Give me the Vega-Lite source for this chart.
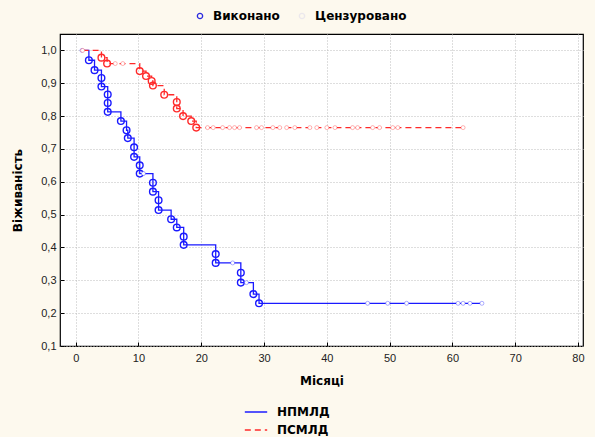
{
  "$schema": "https://vega.github.io/schema/vega-lite/v6.json",
  "width": 523,
  "height": 312,
  "autosize": {"type": "none"},
  "padding": {"left": 60, "top": 34, "right": 12, "bottom": 91},
  "background": "#fdf9ee",
  "config": {
    "view": {"fill": "white", "stroke": "black", "strokeWidth": 1.2},
    "font": "Liberation Sans",
    "axis": {
      "domain": false,
      "grid": true,
      "gridColor": "#bdbdbd",
      "gridDash": [1, 2],
      "gridWidth": 1,
      "tickColor": "black",
      "tickSize": -4,
      "labelFont": "Liberation Sans",
      "labelFontSize": 11,
      "labelColor": "#222222",
      "titleFont": "DejaVu Sans",
      "titleFontSize": 12,
      "titleFontWeight": "bold",
      "titleColor": "black"
    },
    "legend": {
      "labelFont": "DejaVu Sans",
      "labelFontSize": 12,
      "labelFontWeight": "bold",
      "labelColor": "black"
    }
  },
  "datasets": {
    "km": [
      {"grp": "НПМЛД", "i": 0, "t": 1.0, "s": 1.0, "kind": "Цензуровано"},
      {"grp": "НПМЛД", "i": 1, "t": 2.1, "s": 0.97, "kind": "Виконано"},
      {"grp": "НПМЛД", "i": 2, "t": 3.0, "s": 0.94, "kind": "Виконано"},
      {"grp": "НПМЛД", "i": 3, "t": 4.1, "s": 0.916, "kind": "Виконано"},
      {"grp": "НПМЛД", "i": 4, "t": 4.1, "s": 0.89, "kind": "Виконано"},
      {"grp": "НПМЛД", "i": 5, "t": 5.1, "s": 0.866, "kind": "Виконано"},
      {"grp": "НПМЛД", "i": 6, "t": 5.1, "s": 0.84, "kind": "Виконано"},
      {"grp": "НПМЛД", "i": 7, "t": 5.1, "s": 0.813, "kind": "Виконано"},
      {"grp": "НПМЛД", "i": 8, "t": 7.2, "s": 0.785, "kind": "Виконано"},
      {"grp": "НПМЛД", "i": 9, "t": 8.1, "s": 0.757, "kind": "Виконано"},
      {"grp": "НПМЛД", "i": 10, "t": 8.3, "s": 0.733, "kind": "Виконано"},
      {"grp": "НПМЛД", "i": 11, "t": 9.3, "s": 0.705, "kind": "Виконано"},
      {"grp": "НПМЛД", "i": 12, "t": 9.3, "s": 0.676, "kind": "Виконано"},
      {"grp": "НПМЛД", "i": 13, "t": 10.2, "s": 0.65, "kind": "Виконано"},
      {"grp": "НПМЛД", "i": 14, "t": 10.2, "s": 0.625, "kind": "Виконано"},
      {"grp": "НПМЛД", "i": 15, "t": 10.8, "s": 0.625, "kind": "Цензуровано"},
      {"grp": "НПМЛД", "i": 16, "t": 12.3, "s": 0.597, "kind": "Виконано"},
      {"grp": "НПМЛД", "i": 17, "t": 12.3, "s": 0.57, "kind": "Виконано"},
      {"grp": "НПМЛД", "i": 18, "t": 13.2, "s": 0.544, "kind": "Виконано"},
      {"grp": "НПМЛД", "i": 19, "t": 13.2, "s": 0.514, "kind": "Виконано"},
      {"grp": "НПМЛД", "i": 20, "t": 15.2, "s": 0.486, "kind": "Виконано"},
      {"grp": "НПМЛД", "i": 21, "t": 16.1, "s": 0.461, "kind": "Виконано"},
      {"grp": "НПМЛД", "i": 22, "t": 17.2, "s": 0.433, "kind": "Виконано"},
      {"grp": "НПМЛД", "i": 23, "t": 17.2, "s": 0.408, "kind": "Виконано"},
      {"grp": "НПМЛД", "i": 24, "t": 22.3, "s": 0.38, "kind": "Виконано"},
      {"grp": "НПМЛД", "i": 25, "t": 22.3, "s": 0.353, "kind": "Виконано"},
      {"grp": "НПМЛД", "i": 26, "t": 25.0, "s": 0.353, "kind": "Цензуровано"},
      {"grp": "НПМЛД", "i": 27, "t": 26.3, "s": 0.323, "kind": "Виконано"},
      {"grp": "НПМЛД", "i": 28, "t": 26.3, "s": 0.293, "kind": "Виконано"},
      {"grp": "НПМЛД", "i": 29, "t": 27.2, "s": 0.293, "kind": "Цензуровано"},
      {"grp": "НПМЛД", "i": 30, "t": 28.3, "s": 0.258, "kind": "Виконано"},
      {"grp": "НПМЛД", "i": 31, "t": 29.2, "s": 0.23, "kind": "Виконано"},
      {"grp": "НПМЛД", "i": 32, "t": 46.5, "s": 0.23, "kind": "Цензуровано"},
      {"grp": "НПМЛД", "i": 33, "t": 49.7, "s": 0.23, "kind": "Цензуровано"},
      {"grp": "НПМЛД", "i": 34, "t": 52.7, "s": 0.23, "kind": "Цензуровано"},
      {"grp": "НПМЛД", "i": 35, "t": 60.9, "s": 0.23, "kind": "Цензуровано"},
      {"grp": "НПМЛД", "i": 36, "t": 61.7, "s": 0.23, "kind": "Цензуровано"},
      {"grp": "НПМЛД", "i": 37, "t": 62.8, "s": 0.23, "kind": "Цензуровано"},
      {"grp": "НПМЛД", "i": 38, "t": 64.7, "s": 0.23, "kind": "Цензуровано"},
      {"grp": "ПСМЛД", "i": 0, "t": 1.1, "s": 1.0, "kind": "Цензуровано"},
      {"grp": "ПСМЛД", "i": 1, "t": 4.1, "s": 0.978, "kind": "Виконано"},
      {"grp": "ПСМЛД", "i": 2, "t": 5.0, "s": 0.96, "kind": "Виконано"},
      {"grp": "ПСМЛД", "i": 3, "t": 6.3, "s": 0.96, "kind": "Цензуровано"},
      {"grp": "ПСМЛД", "i": 4, "t": 7.5, "s": 0.96, "kind": "Цензуровано"},
      {"grp": "ПСМЛД", "i": 5, "t": 10.2, "s": 0.937, "kind": "Виконано"},
      {"grp": "ПСМЛД", "i": 6, "t": 11.2, "s": 0.922, "kind": "Виконано"},
      {"grp": "ПСМЛД", "i": 7, "t": 12.1, "s": 0.907, "kind": "Виконано"},
      {"grp": "ПСМЛД", "i": 8, "t": 12.3, "s": 0.893, "kind": "Виконано"},
      {"grp": "ПСМЛД", "i": 9, "t": 14.1, "s": 0.865, "kind": "Виконано"},
      {"grp": "ПСМЛД", "i": 10, "t": 16.1, "s": 0.843, "kind": "Виконано"},
      {"grp": "ПСМЛД", "i": 11, "t": 16.1, "s": 0.823, "kind": "Виконано"},
      {"grp": "ПСМЛД", "i": 12, "t": 17.1, "s": 0.80, "kind": "Виконано"},
      {"grp": "ПСМЛД", "i": 13, "t": 18.4, "s": 0.785, "kind": "Виконано"},
      {"grp": "ПСМЛД", "i": 14, "t": 19.2, "s": 0.765, "kind": "Виконано"},
      {"grp": "ПСМЛД", "i": 15, "t": 21.0, "s": 0.765, "kind": "Цензуровано"},
      {"grp": "ПСМЛД", "i": 16, "t": 21.9, "s": 0.765, "kind": "Цензуровано"},
      {"grp": "ПСМЛД", "i": 17, "t": 23.4, "s": 0.765, "kind": "Цензуровано"},
      {"grp": "ПСМЛД", "i": 18, "t": 24.5, "s": 0.765, "kind": "Цензуровано"},
      {"grp": "ПСМЛД", "i": 19, "t": 25.3, "s": 0.765, "kind": "Цензуровано"},
      {"grp": "ПСМЛД", "i": 20, "t": 26.1, "s": 0.765, "kind": "Цензуровано"},
      {"grp": "ПСМЛД", "i": 21, "t": 28.8, "s": 0.765, "kind": "Цензуровано"},
      {"grp": "ПСМЛД", "i": 22, "t": 29.6, "s": 0.765, "kind": "Цензуровано"},
      {"grp": "ПСМЛД", "i": 23, "t": 31.4, "s": 0.765, "kind": "Цензуровано"},
      {"grp": "ПСМЛД", "i": 24, "t": 32.5, "s": 0.765, "kind": "Цензуровано"},
      {"grp": "ПСМЛД", "i": 25, "t": 33.6, "s": 0.765, "kind": "Цензуровано"},
      {"grp": "ПСМЛД", "i": 26, "t": 34.9, "s": 0.765, "kind": "Цензуровано"},
      {"grp": "ПСМЛД", "i": 27, "t": 37.3, "s": 0.765, "kind": "Цензуровано"},
      {"grp": "ПСМЛД", "i": 28, "t": 38.4, "s": 0.765, "kind": "Цензуровано"},
      {"grp": "ПСМЛД", "i": 29, "t": 40.0, "s": 0.765, "kind": "Цензуровано"},
      {"grp": "ПСМЛД", "i": 30, "t": 41.3, "s": 0.765, "kind": "Цензуровано"},
      {"grp": "ПСМЛД", "i": 31, "t": 44.1, "s": 0.765, "kind": "Цензуровано"},
      {"grp": "ПСМЛД", "i": 32, "t": 44.9, "s": 0.765, "kind": "Цензуровано"},
      {"grp": "ПСМЛД", "i": 33, "t": 47.3, "s": 0.765, "kind": "Цензуровано"},
      {"grp": "ПСМЛД", "i": 34, "t": 48.4, "s": 0.765, "kind": "Цензуровано"},
      {"grp": "ПСМЛД", "i": 35, "t": 50.5, "s": 0.765, "kind": "Цензуровано"},
      {"grp": "ПСМЛД", "i": 36, "t": 51.3, "s": 0.765, "kind": "Цензуровано"},
      {"grp": "ПСМЛД", "i": 37, "t": 61.7, "s": 0.765, "kind": "Цензуровано"}
    ]
  },
  "data": {"name": "km"},
  "encoding": {
    "x": {
      "field": "t",
      "type": "quantitative",
      "scale": {"domain": [-2.5, 80.8], "nice": false, "zero": false},
      "axis": {"values": [0, 10, 20, 30, 40, 50, 60, 70, 80], "title": "Місяці", "labelPadding": 10, "titlePadding": 12}
    },
    "y": {
      "field": "s",
      "type": "quantitative",
      "scale": {"domain": [0.1, 1.05], "nice": false, "zero": false},
      "axis": {
        "values": [0.1, 0.2, 0.3, 0.4, 0.5, 0.6, 0.7, 0.8, 0.9, 1.0],
        "labelExpr": "replace(format(datum.value, '.1f'), '.', ',')",
        "title": "Віживаність",
        "labelPadding": 8,
        "titlePadding": 16
      }
    }
  },
  "layer": [
    {
      "mark": {"type": "line", "interpolate": "step-after", "strokeWidth": 1.3},
      "encoding": {
        "order": {"field": "i", "type": "quantitative"},
        "stroke": {
          "field": "grp",
          "type": "nominal",
          "scale": {"domain": ["НПМЛД", "ПСМЛД"], "range": ["#1a1aff", "#ff2a2a"]},
          "legend": {
            "title": null,
            "orient": "none",
            "legendX": 184,
            "legendY": 366,
            "direction": "vertical",
            "symbolType": "stroke",
            "symbolSize": 500,
            "symbolStrokeWidth": 1.3,
            "rowPadding": -4,
            "labelOffset": 9
          }
        },
        "strokeDash": {
          "field": "grp",
          "type": "nominal",
          "scale": {"domain": ["НПМЛД", "ПСМЛД"], "range": [[1, 0], [6, 4]]},
          "legend": {
            "title": null,
            "orient": "none",
            "legendX": 184,
            "legendY": 366,
            "direction": "vertical",
            "symbolType": "stroke",
            "symbolSize": 500,
            "symbolStrokeWidth": 1.3,
            "rowPadding": -4,
            "labelOffset": 9
          }
        }
      }
    },
    {
      "transform": [{"filter": "datum.kind === 'Виконано'"}],
      "mark": {"type": "point", "filled": false, "size": 45, "strokeWidth": 1.4},
      "encoding": {
        "color": {"field": "grp", "type": "nominal", "scale": {"domain": ["НПМЛД", "ПСМЛД"], "range": ["#1a1aff", "#ff2a2a"]}, "legend": null},
        "shape": {
          "field": "kind",
          "type": "nominal",
          "scale": {"domain": ["Виконано", "Цензуровано"], "range": ["circle", "circle"]},
          "legend": {
            "title": null,
            "orient": "none",
            "legendX": 134,
            "legendY": -24,
            "direction": "horizontal",
            "symbolSize": 28,
            "symbolStrokeWidth": 1.3,
            "symbolStrokeColor": "#2a2adf",
            "symbolFillColor": "transparent",
            "columnPadding": 16,
            "labelOffset": 7
          }
        },
        "opacity": {
          "field": "kind",
          "type": "nominal",
          "scale": {"domain": ["Виконано", "Цензуровано"], "range": [1, 0.08]},
          "legend": {
            "title": null,
            "orient": "none",
            "legendX": 134,
            "legendY": -24,
            "direction": "horizontal",
            "symbolSize": 28,
            "symbolStrokeWidth": 1.3,
            "symbolStrokeColor": "#2a2adf",
            "symbolFillColor": "transparent",
            "columnPadding": 16,
            "labelOffset": 7
          }
        }
      }
    },
    {
      "transform": [{"filter": "datum.kind === 'Цензуровано'"}],
      "mark": {"type": "point", "shape": "circle", "filled": false, "fill": "white", "fillOpacity": 1, "size": 16, "strokeWidth": 1, "strokeOpacity": 0.35},
      "encoding": {
        "color": {"field": "grp", "type": "nominal", "scale": {"domain": ["НПМЛД", "ПСМЛД"], "range": ["#1a1aff", "#ff2a2a"]}, "legend": null}
      }
    }
  ]
}
